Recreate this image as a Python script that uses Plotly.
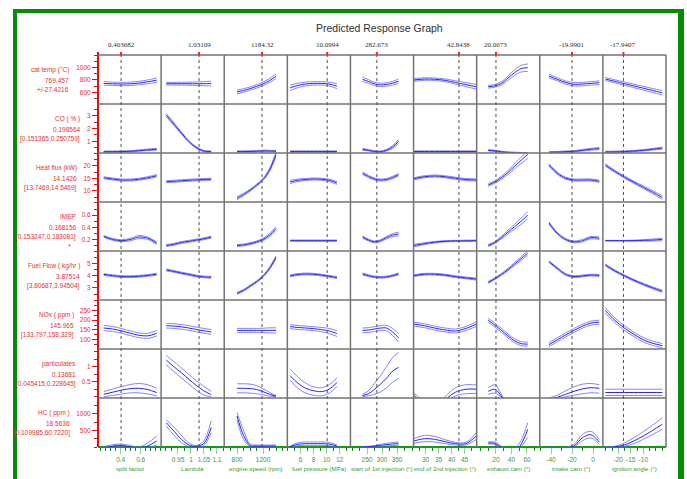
import plotly.graph_objects as go

# ---------------- data ----------------
factor_names = ["split factor", "Lambda", "engine speed (rpm)", "fuel pressure (MPa)",
                "start of 1st injection (°)", "end of 2nd injection (°)", "exhaust cam (°)",
                "intake cam (°)", "ignition angle (°)"]
current_values = [0.403682, 1.03109, 1184.32, 10.0994, 282.673, 42.8438, 20.0073, -19.9901, -17.9407]
current_labels = ["0.403682", "1.03109", "1184.32", "10.0994", "282.673", "42.8438", "20.0073", "-19.9901", "-17.9407"]

split_factor = [0.23, 0.32, 0.41, 0.50, 0.58, 0.67, 0.76]
lambda_vals = [0.905, 0.934, 0.963, 0.992, 1.02, 1.049, 1.078]
engine_speed = [800, 900, 1000, 1100, 1200, 1300, 1400]
fuel_pressure = [4.4, 5.6, 6.8, 8.0, 9.2, 10.4, 11.6]
start_1st_inj = [235, 255, 275, 295, 315, 335, 355]
end_2nd_inj = [25.5, 29.5, 33.5, 37.5, 41.5, 45.5, 49.5]
exhaust_cam = [10, 18.5, 27, 35.5, 44, 52.5, 61]
intake_cam = [-42, -34, -26, -18, -10, -2, 6]
ignition_angle = [-25.2, -21.4, -17.6, -13.8, -10.0, -6.2, -2.4]
factor_x = [split_factor, lambda_vals, engine_speed, fuel_pressure, start_1st_inj,
            end_2nd_inj, exhaust_cam, intake_cam, ignition_angle]

x_tick_values = [[0.4, 0.6], [0.95, 1, 1.05, 1.1], [800, 1200], [6, 8, 10, 12], [250, 300, 350],
                 [30, 35, 40, 45], [20, 40, 60], [-40, -20, 0], [-20, -15, -10]]

response_names = ["cat temp (°C)", "CO ( % )", "Heat flux (kW)", "IMEP", "Fuel Flow ( kg/hr )",
                  "NOx ( ppm )", "particulates", "HC ( ppm )"]
response_values = ["769.457", "0.198564", "14.1426", "0.168156", "3.87514", "145.965", "0.13681", "18.5636"]
response_intervals = ["+/-27.4216", "[0.151365,0.250759]", "[13.7469,14.5469]", "[0.153247,0.183081]",
                      "[3.80687,3.94504]", "[133.797,158.329]", "[0.045415,0.228645]", "[0.109985,60.7220]"]
y_tick_values = [[600, 800, 1000], [1, 2, 3], [10, 15, 20], [0.2, 0.4, 0.6], [3, 4, 5],
                 [100, 150, 200, 250], [0.5, 1], [500, 1000]]

cat_temp_mid = [[745, 738, 735, 738, 750, 770, 798], [740, 740, 740, 740, 740, 740, 742],
                [605, 630, 660, 695, 738, 790, 860], [672, 712, 735, 745, 745, 735, 700],
                [811, 775, 737, 720, 728, 748, 780], [800, 815, 812, 795, 760, 725, 690],
                [690, 705, 745, 830, 920, 985, 1000], [865, 810, 760, 730, 735, 745, 755],
                [816, 779, 741, 704, 667, 629, 592]]
cat_temp_band = [[30, 26, 27, 27, 28, 30, 35], [22, 22, 23, 25, 28, 33, 40], [30, 28, 27, 27, 28, 32, 38],
                 [45, 35, 30, 27, 27, 30, 40], [35, 30, 27, 27, 27, 30, 35], [22, 20, 20, 22, 27, 32, 38],
                 [22, 22, 27, 35, 45, 55, 60], [28, 25, 25, 27, 27, 28, 30], [25, 25, 27, 28, 30, 32, 35]]

co_mid = [[0.19, 0.19, 0.2, 0.22, 0.27, 0.33, 0.38], [3.05, 2.35, 1.65, 0.98, 0.52, 0.24, 0.19],
          [0.2, 0.2, 0.21, 0.22, 0.25, 0.24, 0.22], [0.2, 0.2, 0.2, 0.2, 0.2, 0.2, 0.2],
          [0.37, 0.3, 0.21, 0.19, 0.3, 0.55, 1.0], [0.2, 0.2, 0.2, 0.2, 0.2, 0.2, 0.2],
          [0.3, 0.25, 0.18, 0.13, 0.1, 0.08, 0.06], [0.14, 0.16, 0.19, 0.22, 0.3, 0.38, 0.43],
          [0.17, 0.18, 0.2, 0.24, 0.3, 0.38, 0.47]]
co_band = [[0.05, 0.05, 0.05, 0.05, 0.05, 0.06, 0.07], [0.12, 0.1, 0.08, 0.07, 0.06, 0.05, 0.06],
           [0.05, 0.05, 0.05, 0.05, 0.06, 0.06, 0.06], [0.05, 0.05, 0.05, 0.05, 0.05, 0.05, 0.05],
           [0.07, 0.05, 0.05, 0.05, 0.06, 0.1, 0.15], [0.05, 0.05, 0.05, 0.05, 0.05, 0.05, 0.05],
           [0.05, 0.05, 0.05, 0.05, 0.05, 0.05, 0.05], [0.05, 0.05, 0.05, 0.05, 0.06, 0.07, 0.08],
           [0.05, 0.05, 0.05, 0.05, 0.05, 0.06, 0.07]]

heat_flux_mid = [[15.2, 14.7, 14.3, 14.3, 14.6, 15.2, 16.0], [13.6, 13.8, 14.0, 14.2, 14.35, 14.5, 14.6],
                 [7.0, 8.5, 10.2, 12.2, 14.5, 18.3, 24.5], [13.5, 14.2, 14.5, 14.7, 14.6, 14.2, 13.1],
                 [17.0, 15.7, 14.7, 14.3, 14.5, 15.3, 16.4], [14.8, 15.6, 15.9, 15.6, 15.0, 14.5, 14.3],
                 [12.3, 13.5, 15.2, 17.3, 19.8, 22.2, 24.5], [20.3, 17.0, 15.0, 14.3, 14.3, 14.3, 13.8],
                 [20.3, 17.8, 15.5, 13.4, 11.4, 9.4, 7.3]]
heat_flux_band = [[0.4, 0.4, 0.4, 0.4, 0.4, 0.4, 0.5], [0.4, 0.4, 0.4, 0.4, 0.4, 0.4, 0.4],
                  [0.6, 0.5, 0.4, 0.4, 0.4, 0.6, 0.9], [0.6, 0.5, 0.4, 0.4, 0.4, 0.45, 0.55],
                  [0.5, 0.45, 0.4, 0.4, 0.4, 0.45, 0.5], [0.4, 0.4, 0.4, 0.4, 0.4, 0.4, 0.45],
                  [0.5, 0.5, 0.6, 0.8, 1.0, 1.3, 1.5], [0.5, 0.45, 0.4, 0.4, 0.4, 0.4, 0.45],
                  [0.5, 0.4, 0.4, 0.45, 0.5, 0.6, 0.7]]

imep_mid = [[0.25, 0.2, 0.18, 0.2, 0.24, 0.22, 0.14], [0.1, 0.12, 0.15, 0.17, 0.19, 0.21, 0.24],
            [0.1, 0.11, 0.13, 0.16, 0.2, 0.27, 0.38], [0.18, 0.18, 0.18, 0.18, 0.18, 0.18, 0.18],
            [0.24, 0.19, 0.16, 0.18, 0.23, 0.27, 0.29], [0.1, 0.13, 0.155, 0.17, 0.175, 0.178, 0.18],
            [0.1, 0.15, 0.23, 0.32, 0.41, 0.5, 0.6], [0.47, 0.3, 0.2, 0.16, 0.18, 0.23, 0.22],
            [0.18, 0.18, 0.18, 0.18, 0.185, 0.19, 0.2]]
imep_band = [[0.015, 0.015, 0.015, 0.02, 0.025, 0.02, 0.02], [0.015, 0.015, 0.015, 0.015, 0.015, 0.015, 0.015],
             [0.015, 0.015, 0.015, 0.015, 0.018, 0.025, 0.03], [0.01, 0.01, 0.01, 0.01, 0.01, 0.01, 0.01],
             [0.02, 0.015, 0.015, 0.015, 0.02, 0.025, 0.03], [0.02, 0.015, 0.012, 0.01, 0.01, 0.01, 0.01],
             [0.015, 0.015, 0.02, 0.03, 0.04, 0.05, 0.06], [0.02, 0.015, 0.015, 0.015, 0.02, 0.02, 0.02],
             [0.005, 0.005, 0.005, 0.008, 0.012, 0.016, 0.02]]

fuel_flow_mid = [[4.1, 4.0, 3.93, 3.92, 3.95, 4.02, 4.12], [4.47, 4.35, 4.22, 4.1, 3.98, 3.9, 3.87],
                 [2.55, 2.8, 3.15, 3.5, 3.95, 4.6, 5.5], [3.98, 4.1, 4.14, 4.12, 4.05, 3.95, 3.85],
                 [4.14, 4.0, 3.9, 3.87, 3.9, 4.0, 4.15], [4.0, 4.12, 4.12, 4.05, 3.92, 3.82, 3.72],
                 [3.45, 3.75, 4.1, 4.5, 4.95, 5.4, 5.85], [5.15, 4.6, 4.1, 3.92, 3.98, 4.05, 4.02],
                 [4.88, 4.4, 4.0, 3.63, 3.3, 3.0, 2.72]]
fuel_flow_band = [[0.07, 0.07, 0.07, 0.07, 0.07, 0.07, 0.08], [0.08, 0.07, 0.07, 0.07, 0.07, 0.07, 0.07],
                  [0.08, 0.07, 0.07, 0.07, 0.07, 0.09, 0.12], [0.08, 0.07, 0.07, 0.07, 0.07, 0.07, 0.08],
                  [0.08, 0.07, 0.07, 0.07, 0.07, 0.07, 0.08], [0.07, 0.07, 0.07, 0.07, 0.07, 0.07, 0.08],
                  [0.07, 0.07, 0.08, 0.1, 0.12, 0.15, 0.18], [0.08, 0.07, 0.07, 0.07, 0.07, 0.07, 0.08],
                  [0.08, 0.07, 0.07, 0.07, 0.07, 0.08, 0.09]]

nox_mid = [[160, 155, 145, 133, 123, 120, 133], [172, 170, 166, 160, 153, 146, 140],
           [148, 148, 148, 148, 148, 148, 148], [167, 163, 160, 157, 152, 145, 132],
           [148, 150, 155, 160, 160, 140, 110], [180, 172, 160, 150, 145, 158, 180],
           [200, 175, 148, 120, 95, 80, 78], [75, 100, 125, 148, 170, 185, 190],
           [250, 200, 160, 128, 100, 82, 70]]
nox_band = [[13, 13, 12, 12, 12, 13, 14], [12, 12, 12, 12, 12, 12, 12], [10, 10, 10, 10, 11, 13, 13],
            [10, 10, 10, 10, 11, 13, 15], [12, 12, 12, 12, 14, 18, 22], [10, 10, 10, 10, 10, 10, 12],
            [10, 10, 10, 10, 10, 10, 10], [10, 10, 10, 10, 10, 10, 10], [14, 12, 12, 11, 11, 11, 11]]

particulates_lo = [[0.0, 0.04, 0.09, 0.13, 0.13, 0.09, 0.03], [1.06, 0.84, 0.63, 0.42, 0.22, 0.06, 0.0],
                   [0.13, 0.13, 0.12, 0.1, 0.06, 0.02, 0.0], [0.55, 0.28, 0.12, 0.05, 0.03, 0.12, 0.33],
                   [0.0, 0.03, 0.08, 0.16, 0.3, 0.48, 0.62], [0.0, -0.35, -0.5, -0.2, 0.03, 0.1, 0.11],
                   [0.08, 0.12, -0.02, -0.4, -0.7, -0.9, -1.0], [-0.15, -0.08, 0.0, 0.05, 0.1, 0.13, 0.12],
                   [0.04, 0.04, 0.04, 0.04, 0.04, 0.04, 0.04]]
particulates_mid = [[0.08, 0.15, 0.22, 0.27, 0.28, 0.24, 0.14], [1.22, 1.0, 0.8, 0.58, 0.38, 0.2, 0.07],
                    [0.28, 0.28, 0.27, 0.24, 0.17, 0.08, 0.02], [0.7, 0.45, 0.28, 0.2, 0.17, 0.25, 0.47],
                    [0.04, 0.1, 0.25, 0.42, 0.62, 0.85, 0.98], [0.05, -0.25, -0.4, -0.1, 0.15, 0.25, 0.25],
                    [0.18, 0.25, 0.02, -0.35, -0.6, -0.8, -0.9], [-0.1, -0.02, 0.08, 0.18, 0.26, 0.3, 0.28],
                    [0.14, 0.14, 0.14, 0.14, 0.14, 0.14, 0.14]]
particulates_hi = [[0.17, 0.26, 0.34, 0.41, 0.44, 0.4, 0.28], [1.38, 1.17, 0.96, 0.74, 0.54, 0.35, 0.18],
                   [0.43, 0.43, 0.42, 0.37, 0.27, 0.14, 0.03], [0.93, 0.65, 0.45, 0.33, 0.3, 0.4, 0.63],
                   [0.08, 0.2, 0.45, 0.7, 1.0, 1.3, 1.47], [0.12, -0.15, -0.3, 0.0, 0.3, 0.4, 0.39],
                   [0.3, 0.4, 0.08, -0.3, -0.5, -0.7, -0.8], [-0.05, 0.05, 0.2, 0.33, 0.42, 0.44, 0.4],
                   [0.25, 0.25, 0.25, 0.25, 0.25, 0.25, 0.25]]

hc_lo = [[-150, -20, 10, -50, -120, -40, 60], [630, 360, 130, 10, 5, 40, 430],
         [810, 230, 15, 10, 10, 10, 10], [0, 40, 50, 50, 50, 40, 10],
         [-10, 0, 10, 20, 35, 45, 50], [110, 160, 150, 100, 60, 60, 230],
         [90, 80, -50, -300, -250, 0, 280], [0, -150, -80, 0, 190, 270, 90],
         [-40, -20, 20, 100, 230, 380, 530]]
hc_mid = [[-50, 30, 50, 0, -60, 30, 180], [730, 480, 230, 60, 20, 100, 580],
          [930, 350, 45, 30, 30, 30, 30], [10, 80, 100, 100, 100, 90, 30],
          [0, 10, 25, 50, 70, 90, 100], [180, 250, 230, 160, 100, 100, 330],
          [120, 110, -20, -200, -150, 80, 530], [10, -100, -50, 30, 280, 370, 150],
          [-20, 0, 60, 180, 330, 500, 680]]
hc_hi = [[10, 70, 90, 40, 0, 120, 330], [810, 600, 350, 120, 40, 180, 780],
         [1030, 500, 90, 60, 60, 60, 60], [20, 130, 150, 150, 150, 140, 60],
         [10, 20, 40, 80, 110, 130, 150], [250, 350, 320, 220, 140, 140, 430],
         [150, 150, 20, -100, -50, 200, 730], [20, -60, -10, 80, 380, 470, 230],
         [0, 20, 120, 280, 460, 660, 880]]

mid_band_rows = [(cat_temp_mid, cat_temp_band), (co_mid, co_band), (heat_flux_mid, heat_flux_band),
                 (imep_mid, imep_band), (fuel_flow_mid, fuel_flow_band), (nox_mid, nox_band)]
explicit_rows = [(particulates_lo, particulates_mid, particulates_hi), (hc_lo, hc_mid, hc_hi)]

# ---------------- layout settings ----------------
W, H = 687, 479
ML, MR, MT, MB = 98, 21, 55, 32
PW, PH = W - ML - MR, H - MT - MB
NC, NR = 9, 8


def pxx(px):
    return (px - ML) / PW


def pxy(py):
    return (H - MB - py) / PH


x_ranges = [[0.173, 0.804], [0.885, 1.128], [603, 1574], [3.97, 13.68], [194.7, 405],
            [25.4, 49.65], [-4.9, 76.5], [-50.7, 9.4], [-26.16, -0.92]]
x_minor = [0.05, 0.025, 100, 1, 25, 2.5, 10, 10, 2.5]
y_ranges = [[410, 1206], [0.086, 3.91], [5.5, 25.1], [0.01, 0.816], [2.01, 6.02], [53, 303],
            [-0.043, 1.59], [0, 1470]]
y_minor = [100, 0.5, 2.5, 0.1, 0.5, 25, 0.25, 250]
label_right_px = [71, 82, 79, 78, 82, 76, 78, 72]

NARROW = "Liberation Sans Narrow, Arial Narrow, Liberation Sans, Arial, sans-serif"
RED = "#e83030"
GREEN_TXT = "#3a9a3a"
BAND = "#6464ff"
MID = "#2525f5"

fig = go.Figure()

for r in range(NR):
    for c in range(NC):
        xa = "x" if c == 0 else f"x{c + 1}"
        ya = "y" if r == 0 else f"y{r + 1}"
        if r < 6:
            m_all, b_all = mid_band_rows[r]
            mid = m_all[c]
            band = b_all[c]
            lo = [m - b for m, b in zip(mid, band)]
            hi = [m + b for m, b in zip(mid, band)]
        else:
            lo_all, mid_all, hi_all = explicit_rows[r - 6]
            lo, mid, hi = lo_all[c], mid_all[c], hi_all[c]
        for ys, col, w in ((lo, BAND, 0.8), (hi, BAND, 0.8), (mid, MID, 1.0)):
            fig.add_trace(go.Scatter(x=factor_x[c], y=ys, mode="lines",
                                     line=dict(color=col, width=w, shape="spline", smoothing=0.9),
                                     xaxis=xa, yaxis=ya, hoverinfo="skip", showlegend=False))

layout = dict(width=W, height=H, margin=dict(l=ML, r=MR, t=MT, b=MB),
              paper_bgcolor="white", plot_bgcolor="white", showlegend=False)

for c in range(NC):
    key = "xaxis" if c == 0 else f"xaxis{c + 1}"
    layout[key] = dict(domain=[c / NC, (c + 1) / NC], range=x_ranges[c], anchor="free", position=0,
                       showline=True, linecolor="#10a010", linewidth=2,
                       ticks="outside", ticklen=6, tickwidth=1, tickcolor="#8ad88a",
                       tickmode="array", tickvals=x_tick_values[c], tickangle=0,
                       ticktext=[f"{v:g}" for v in x_tick_values[c]],
                       tickfont=dict(size=6.5, color=GREEN_TXT, family=NARROW),
                       showgrid=False, zeroline=False, fixedrange=True,
                       minor=dict(ticks="outside", ticklen=3, tickwidth=1, tickcolor="#1f7f1f",
                                  tickmode="linear", tick0=x_tick_values[c][0], dtick=x_minor[c],
                                  showgrid=False))

for r in range(NR):
    key = "yaxis" if r == 0 else f"yaxis{r + 1}"
    layout[key] = dict(domain=[1 - (r + 1) / NR, 1 - r / NR], range=y_ranges[r], anchor="free", position=0,
                       showline=True, linecolor="#e01010", linewidth=2,
                       ticks="outside", ticklen=5, tickwidth=1, tickcolor="#e01010",
                       tickmode="array", tickvals=y_tick_values[r],
                       ticktext=[f"{v:g}" for v in y_tick_values[r]],
                       tickfont=dict(size=6.5, color=RED, family=NARROW),
                       showgrid=False, zeroline=False, fixedrange=True,
                       minor=dict(ticks="outside", ticklen=3, tickwidth=1, tickcolor="#e01010",
                                  tickmode="linear", tick0=y_tick_values[r][0], dtick=y_minor[r],
                                  showgrid=False))

fig.update_layout(**layout)

shapes = []
GRID = "#737373"
for c in range(1, NC + 1):
    shapes.append(dict(type="line", xref="paper", yref="paper", x0=c / NC, x1=c / NC, y0=0, y1=1,
                       line=dict(color=GRID, width=1.5)))
for r in range(1, NR + 1):
    shapes.append(dict(type="line", xref="paper", yref="paper", x0=0, x1=1, y0=r / NR, y1=r / NR,
                       line=dict(color=GRID, width=1.5)))
for c in range(NC):
    xr = "x" if c == 0 else f"x{c + 1}"
    shapes.append(dict(type="line", xref=xr, yref="paper", x0=current_values[c], x1=current_values[c],
                       y0=0, y1=1, line=dict(color="#505050", width=1, dash="dot")))
    shapes.append(dict(type="line", xref=xr, yref="paper", x0=current_values[c], x1=current_values[c],
                       y0=1, y1=pxy(52), line=dict(color="#ff2020", width=2)))
# red axis extension above the grid
shapes.append(dict(type="line", xref="paper", yref="paper", x0=0, x1=0, y0=1, y1=pxy(52),
                   line=dict(color="#e01010", width=2)))
# green outer frame
FR = "#078a07"
shapes.append(dict(type="line", xref="paper", yref="paper", x0=pxx(13), x1=pxx(684), y0=pxy(11), y1=pxy(11),
                   line=dict(color=FR, width=4)))
shapes.append(dict(type="line", xref="paper", yref="paper", x0=pxx(15), x1=pxx(15), y0=pxy(9), y1=pxy(495),
                   line=dict(color=FR, width=4)))
shapes.append(dict(type="line", xref="paper", yref="paper", x0=pxx(681), x1=pxx(681), y0=pxy(9), y1=pxy(495),
                   line=dict(color=FR, width=6)))

annotations = []
annotations.append(dict(text="Predicted Response Graph", xref="paper", yref="paper", x=pxx(379), y=pxy(28),
                        showarrow=False, xanchor="center", yanchor="middle",
                        font=dict(size=10.5, color="#303030", family="Liberation Sans, Arial, sans-serif")))
for c in range(NC):
    xr = "x" if c == 0 else f"x{c + 1}"
    annotations.append(dict(text=current_labels[c], xref=xr, yref="paper", x=current_values[c], y=pxy(45),
                            showarrow=False, xanchor="center", yanchor="middle",
                            font=dict(size=7, color="#303030", family="Liberation Serif, Times New Roman, serif")))
    annotations.append(dict(text=factor_names[c], xref="paper", yref="paper", x=(c + 0.5) / NC, y=pxy(469),
                            showarrow=False, xanchor="center", yanchor="middle",
                            font=dict(size=6.2, color=GREEN_TXT, family=NARROW)))
for r in range(NR):
    top = MT + r * PH / NR
    for k, (txt, dy) in enumerate(((response_names[r], 15), (response_values[r], 25),
                                   (response_intervals[r], 34.5))):
        annotations.append(dict(text=txt, xref="paper", yref="paper", x=pxx(label_right_px[r]),
                                y=pxy(top + dy), showarrow=False, xanchor="right", yanchor="middle",
                                font=dict(size=6.5, color=RED, family=NARROW)))
annotations.append(dict(text="*", xref="paper", yref="paper", x=pxx(69), y=pxy(246), showarrow=False,
                        xanchor="center", yanchor="middle", font=dict(size=7, color=RED, family=NARROW)))

fig.update_layout(shapes=shapes, annotations=annotations)
fig.write_html("out.html", config={"displayModeBar": False, "staticPlot": True},
               post_script="document.body.style.margin='0px';document.body.style.overflow='hidden';")
